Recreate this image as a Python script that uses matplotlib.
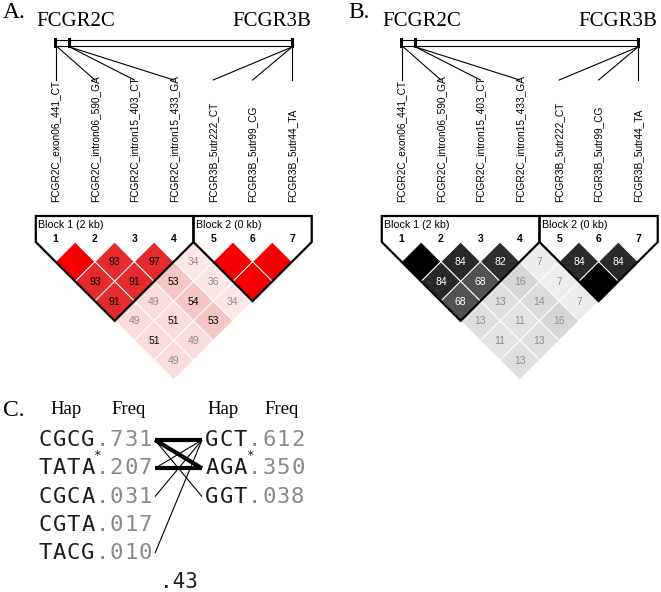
import matplotlib
matplotlib.use("Agg")
import matplotlib.pyplot as plt
from matplotlib.patches import Polygon, Rectangle

# ---- data -------------------------------------------------------------
markers = ["FCGR2C_exon06_441_CT", "FCGR2C_intron06_590_GA",
           "FCGR2C_intron15_403_CT", "FCGR2C_intron15_433_GA",
           "FCGR3B_5utr222_CT", "FCGR3B_5utr99_CG", "FCGR3B_5utr44_TA"]
genes = ["FCGR2C", "FCGR3B"]
# relative position of each marker along the region bar
marker_pos = [0.0, 0.008, 0.06, 0.06, 1.0, 1.0, 1.0]
tick_pos = [0.0, 0.06, 1.0]
blocks = [(1, 4, "Block 1 (2 kb)"), (5, 7, "Block 2 (0 kb)")]

# row k holds the pairs (i, i+k+1); 100 = no number shown
dprime = [[100, 93, 97, 34, 100, 100],
          [93, 91, 53, 36, 100],
          [91, 49, 54, 34],
          [49, 51, 53],
          [51, 49],
          [49]]
r2 = [[100, 84, 82, 7, 84, 84],
      [84, 68, 16, 7, 100],
      [68, 13, 14, 7],
      [13, 11, 16],
      [11, 13],
      [13]]

hap_left = ["CGCG", "TATA", "CGCA", "CGTA", "TACG"]
freq_left = [".731", ".207", ".031", ".017", ".010"]
hap_right = ["GCT", "AGA", "GGT"]
freq_right = [".612", ".350", ".038"]
tag_left = 1
tag_right = 1
# (left hap, right hap, strong crossing?)
crossings = [(0, 0, True), (1, 1, True), (0, 1, True),
             (0, 2, False), (1, 0, False), (2, 0, False), (4, 0, False)]
multi_d = ".43"

# ---- style ------------------------------------------------------------
SERIF = "Liberation Serif"
SANS = "Liberation Sans"
MONO = "DejaVu Sans Mono"
SP = 39.42          # marker spacing (px)
H = SP / 2
TOP = 242           # top vertex of first diamond row


def dp_color(v):
    if v >= 100:
        return "#f40000"
    if v >= 90:
        return "#e42a2c"
    if v >= 52:
        return "#f5c6c6"
    if v >= 40:
        return "#fadcdc"
    return "#fce7e7"


def dp_text(v):
    return "black" if v >= 50 else "#8c8c8c"


def r2_color(v):
    g = 1 - v / 100.0
    return (g, g, g)


def r2_text(v):
    return "white" if v >= 50 else "#8c8c8c"


fig = plt.figure(figsize=(6.61, 5.92), dpi=100)
ax = fig.add_axes([0, 0, 1, 1])
ax.set_xlim(0, 661)
ax.set_ylim(592, 0)
ax.axis("off")


def ld_panel(x0, letter, values, fill, tcol):
    xs = [x0 + i * SP for i in range(len(markers))]
    xl, xr = xs[0], xs[-1]
    ax.text(x0 - 53, 12, letter, family=SERIF, fontsize=17, va="center", ha="left")
    ax.text(xl + 20, 22, genes[0], family=SERIF, fontsize=15, va="center", ha="center")
    ax.text(xr - 20, 22, genes[1], family=SERIF, fontsize=15, va="center", ha="center")
    # region bar
    ax.add_patch(Rectangle((xl, 40), xr - xl, 6, fc="white", ec="black", lw=0.8))
    for t in tick_pos:
        ax.add_patch(Rectangle((xl + t * (xr - xl) - 1.5, 38), 3, 10, fc="black", ec="none"))
    for i, p in enumerate(marker_pos):
        ax.plot([xl + p * (xr - xl), xs[i]], [47, 80], color="black", lw=0.8)
        ax.text(xs[i], 202, markers[i], family=SANS, fontsize=7.3,
                rotation=90, ha="center", va="bottom")
    # diamonds
    for k, row in enumerate(values):
        for i, v in enumerate(row):
            j = i + k + 1
            cx = (xs[i] + xs[j]) / 2
            cy = TOP + (k + 1) * H
            ax.add_patch(Polygon([(cx, cy - H), (cx + H, cy), (cx, cy + H), (cx - H, cy)],
                                 closed=True, fc=fill(v), ec="white", lw=0.7))
            if v < 100:
                ax.text(cx, cy + 0.5, str(v), family=SANS, fontsize=7.5,
                        color=tcol(v), ha="center", va="center")
    # blocks
    for a, b, name in blocks:
        xa, xb = xs[a - 1] - H, xs[b - 1] + H
        apex = ((xs[a - 1] + xs[b - 1]) / 2, TOP + (b - a + 1) * H)
        ax.add_patch(Polygon([(xa, 216), (xb, 216), (xb, TOP), apex, (xa, TOP)],
                             closed=True, fill=False, ec="black", lw=1.6,
                             joinstyle="miter"))
        ax.text(xa + 2.5, 225, name, family=SANS, fontsize=7.7, ha="left", va="center")
    for i, x in enumerate(xs):
        ax.text(x, 239, str(i + 1), family=SANS, fontsize=7.5, weight="bold",
                ha="center", va="center")


ld_panel(55.5, "A.", dprime, dp_color, dp_text)
ld_panel(401.5, "B.", r2, r2_color, r2_text)

# ---- panel C: haplotype crossings ---------------------------------------
ax.text(3, 410, "C.", family=SERIF, fontsize=17, va="center", ha="left")
for x, s in [(66, "Hap"), (129, "Freq"), (223, "Hap"), (282, "Freq")]:
    ax.text(x, 410, s, family=SERIF, fontsize=13.5, ha="center", va="center")

PITCH = 14.3
ROW0, ROWSTEP = 440, 28.3


def hap_column(x_first, haps, freqs, tag):
    for r, (h, f) in enumerate(zip(haps, freqs)):
        y = ROW0 + r * ROWSTEP
        for c, ch in enumerate(h):
            ax.text(x_first + c * PITCH, y, ch, family=MONO, fontsize=16,
                    color="#1e1e1e", ha="center", va="center")
        for c, ch in enumerate(f):
            ax.text(x_first + (len(h) + c) * PITCH, y, ch, family=MONO, fontsize=16,
                    color="#8a8a8a", ha="center", va="center")
        if r == tag:
            # tag mark sits in the corner between hap and freq
            ax.text(x_first + (len(h) - 0.35) * PITCH, y - 13, "*", family=MONO,
                    fontsize=9, color="#1e1e1e", ha="center", va="center")


hap_column(45, hap_left, freq_left, tag_left)
hap_column(212, hap_right, freq_right, tag_right)

for li, ri, strong in crossings:
    ax.plot([155, 202], [ROW0 + li * ROWSTEP, ROW0 + ri * ROWSTEP], color="black",
            lw=3.0 if strong else 0.8, solid_capstyle="butt")

ax.text(179, 582, multi_d, family=MONO, fontsize=15, color="#1e1e1e",
        ha="center", va="center")

fig.savefig("out.png", dpi=100)
